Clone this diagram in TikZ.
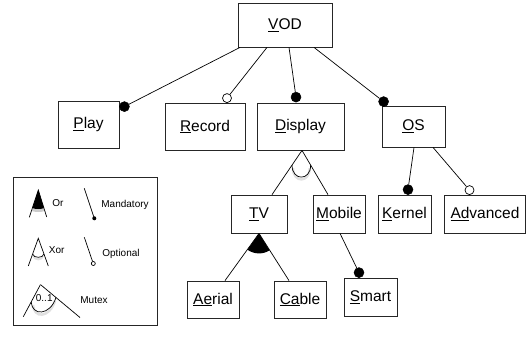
\documentclass[tikz,border=0pt]{standalone}
\usepackage{fontspec}
\setmainfont{Liberation Sans}
\usetikzlibrary{calc}
\newcommand\ulx[1]{\underline{#1}}
\begin{document}
\begin{tikzpicture}[x=1pt,y=1pt,line width=0.8pt,
  feat/.style={draw=black!85, rectangle, inner sep=0pt, font=\fontsize{15.5}{18}\selectfont},
  mand/.style={circle, fill=black, draw=black, inner sep=0pt, minimum size=10pt, line width=0.5pt},
  opt/.style={circle, fill=white, draw=black, inner sep=0pt, minimum size=9pt, line width=0.7pt},
  conn/.style={draw=black, line width=0.7pt},
  lbl/.style={anchor=base west, inner sep=0pt, font=\fontsize{10}{12}\selectfont},
  shad/.style={draw=black!12, line width=2.5pt},
  legbox/.style={draw=black!85, rectangle, inner sep=0pt, minimum width=144pt, minimum height=148pt}]
\useasboundingbox (0,0) rectangle (526,-338);

% features
\node[feat, minimum width=94pt, minimum height=44pt] (VOD) at (285,-25) {\ulx{V}OD};
\node[feat, minimum width=61pt, minimum height=47pt] (Play) at (88.5,-124.5) {\ulx{P}lay};
\node[feat, minimum width=80pt, minimum height=47pt] (Record) at (205,-126.5) {\ulx{R}ecord};
\node[feat, minimum width=87pt, minimum height=47pt] (Display) at (300.5,-126.5) {\ulx{D}isplay};
\node[feat, minimum width=63pt, minimum height=41pt] (OS) at (413.5,-126.5) {\ulx{O}S};
\node[feat, minimum width=56pt, minimum height=38pt] (TV) at (259,-214) {\ulx{T}V};
\node[feat, minimum width=52pt, minimum height=38pt] (Mobile) at (339,-214) {\ulx{M}obile};
\node[feat, minimum width=53pt, minimum height=38pt] (Kernel) at (404.5,-214) {\ulx{K}ernel};
\node[feat, minimum width=81pt, minimum height=38pt] (Advanced) at (485,-214) {\ulx{Ad}vanced};
\node[feat, minimum width=52pt, minimum height=37pt] (Aerial) at (213,-299.5) {\ulx{Ae}rial};
\node[feat, minimum width=52pt, minimum height=37pt] (Cable) at (300,-299.5) {\ulx{Ca}ble};
\node[feat, minimum width=53pt, minimum height=38pt] (Smart) at (370.5,-297) {\ulx{S}mart};

% circles
\node[mand] (mPlay) at ([xshift=5pt,yshift=-6pt]Play.north east) {};
\node[opt] (oRecord) at ([xshift=22pt,yshift=4.5pt]Record.north) {};
\node[mand] (mDisplay) at ([xshift=-4.5pt,yshift=5.5pt]Display.north) {};
\node[mand] (mOS) at ([xshift=2pt,yshift=4pt]OS.north west) {};
\node[mand] (mKernel) at ([xshift=3.5pt,yshift=5pt]Kernel.north) {};
\node[opt] (oAdvanced) at ([xshift=-15.5pt,yshift=4.5pt]Advanced.north) {};
\node[mand] (mSmart) at ([xshift=-11.5pt,yshift=5pt]Smart.north) {};

% connectors
\draw[conn] ([xshift=-45pt]VOD.south) -- (mPlay);
\draw[conn] ([xshift=-18pt]VOD.south) -- (oRecord);
\draw[conn] ([xshift=4pt]VOD.south) -- (mDisplay);
\draw[conn] ([xshift=29pt]VOD.south) -- (mOS);
\draw[conn] ([xshift=0.5pt]OS.south) -- (mKernel);
\draw[conn] ([xshift=19.5pt]OS.south) -- (oAdvanced);
\draw[conn] ([xshift=1pt]Mobile.south) -- (mSmart);

% xor group under Display
\coordinate (xA) at ([xshift=1.5pt]Display.south);
\coordinate (xL) at ([xshift=13pt]TV.north);
\coordinate (xR) at ([xshift=-11pt]Mobile.north);
\coordinate (xp) at ($(xA)!0.333!(xL)$);
\coordinate (xq) at ($(xA)!0.333!(xR)$);
\draw[shad] ($(xp)+(1,-3)$) .. controls ($(xp)+(1,-18)$) and ($(xq)+(-1,-18)$) .. ($(xq)+(-1,-3)$);
\draw[conn] (xA) -- (xL);
\draw[conn] (xA) -- (xR);
\draw[conn] (xp) .. controls ($(xp)+(0,-16)$) and ($(xq)+(0,-16)$) .. (xq);

% or group under TV
\coordinate (oA) at (TV.south);
\coordinate (oL) at ([xshift=12pt]Aerial.north);
\coordinate (oR) at ([xshift=-11pt]Cable.north);
\fill (oA) -- ++(234.7:20) arc[start angle=234.7, end angle=302, radius=20] -- cycle;
\draw[conn] (oA) -- (oL);
\draw[conn] (oA) -- (oR);

% legend
\node[legbox] (legend) at (85,-251) {};
\begin{scope}[line width=0.7pt]
  % Or
  \fill[black!20] (38.3,-191) -- ++(251.8:21) arc[start angle=251.8,end angle=287.3,radius=21] -- cycle;
  \fill (38.3,-190) -- ++(251.8:19) arc[start angle=251.8,end angle=287.3,radius=19] -- cycle;
  \draw (29.3,-217.3) -- (38.3,-190) -- (46.7,-217);
  % Mandatory
  \draw (84.3,-188.3) -- (94.3,-218.3);
  \fill (94.3,-218.3) circle (2pt);
  % Xor
  \draw[black!12, line width=2pt] (33.5,-256) .. controls (34.5,-260.4) and (42,-260.4) .. (43,-256);
  \draw (28.3,-266) -- (38.3,-238.3) -- (48.3,-266);
  \draw (32.6,-254) .. controls (33.5,-258.4) and (43,-258.4) .. (44,-254);
  % Optional
  \draw (84.3,-237.3) -- (92.6,-261.6);
  \draw[fill=white] (93.3,-263.5) circle (2pt);
  % Mutex
  \draw[black!12, line width=2.5pt] (33,-305) .. controls (34,-318.5) and (49,-318.5) .. (55,-301);
  \draw (23.3,-316.7) -- (40.5,-284.5);
  \draw (41,-285) -- (80,-317.5);
  \draw (31.2,-302) .. controls (32,-316) and (50,-316) .. (56,-297.5);
\end{scope}
\node[lbl] (tOr) at (52,-206.6) {Or};
\node[lbl] (tMand) at (101,-207.5) {Mandatory};
\node[lbl] (tXor) at (48.5,-253.6) {Xor};
\node[lbl] (tOpt) at (102,-256) {Optional};
\node[lbl] (tMutex) at (80,-303.6) {Mutex};
\node[lbl] (tRange) at (35.5,-301.6) {0..1};
\end{tikzpicture}
\end{document}
